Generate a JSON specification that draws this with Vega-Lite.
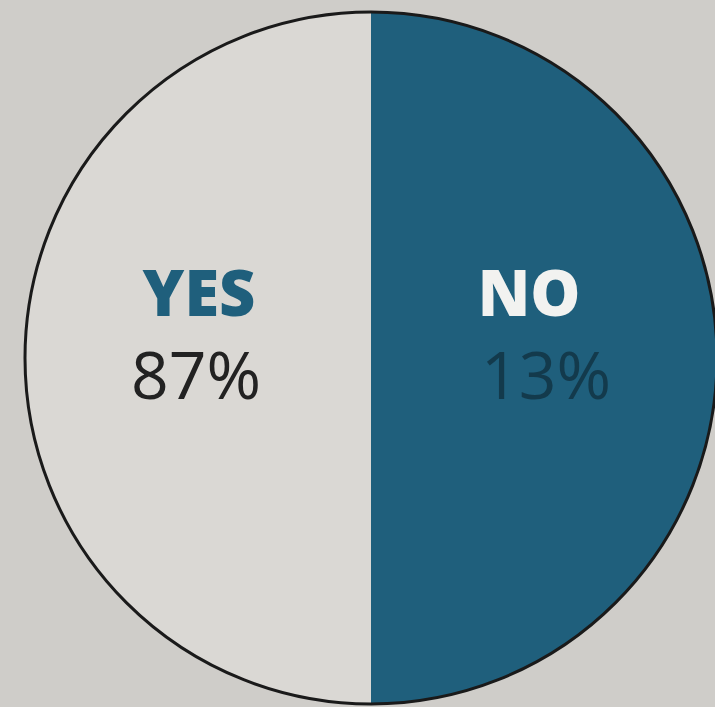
{
  "$schema": "https://vega.github.io/schema/vega-lite/v6.json",
  "autosize": {"type": "fit", "contains": "padding"},
  "width": 715,
  "height": 707,
  "padding": {"left": 27, "top": 12, "right": 0, "bottom": 3},
  "background": "#cfcdc9",
  "config": {"view": {"stroke": null}},
  "data": {
    "values": [
      {"answer": "NO", "label": "NO", "percent": "13%", "drawn_share": 50},
      {"answer": "YES", "label": "YES", "percent": "87%", "drawn_share": 50}
    ]
  },
  "layer": [
    {
      "mark": {"type": "arc", "outerRadius": 346},
      "encoding": {
        "theta": {"field": "drawn_share", "type": "quantitative", "stack": true},
        "order": {"field": "answer", "sort": "ascending"},
        "color": {
          "field": "answer",
          "type": "nominal",
          "scale": {"domain": ["NO", "YES"], "range": ["#1f5f7c", "#dad8d4"]},
          "legend": null
        }
      }
    },
    {
      "transform": [{"aggregate": [{"op": "sum", "field": "drawn_share", "as": "total"}]}],
      "mark": {"type": "arc", "outerRadius": 346, "filled": false, "stroke": "#1a1a1a", "strokeWidth": 3},
      "encoding": {
        "theta": {"field": "total", "type": "quantitative"}
      }
    },
    {
      "mark": {"type": "text", "radius": 165, "font": "Open Sans", "fontWeight": 800, "fontSize": 63, "baseline": "alphabetic", "align": "center", "dy": -42, "dx": -7},
      "encoding": {
        "theta": {"field": "drawn_share", "type": "quantitative", "stack": true},
        "order": {"field": "answer", "sort": "ascending"},
        "text": {"field": "label"},
        "color": {"condition": {"test": "datum.answer === 'YES'", "value": "#1f5f7c"}, "value": "#f2f2f0"}
      }
    },
    {
      "mark": {"type": "text", "radius": 175, "font": "Open Sans", "fontSize": 66, "baseline": "alphabetic", "align": "center", "dy": 41},
      "encoding": {
        "theta": {"field": "drawn_share", "type": "quantitative", "stack": true},
        "order": {"field": "answer", "sort": "ascending"},
        "text": {"field": "percent"},
        "color": {"condition": {"test": "datum.answer === 'YES'", "value": "#222222"}, "value": "#133a4c"}
      }
    }
  ]
}
